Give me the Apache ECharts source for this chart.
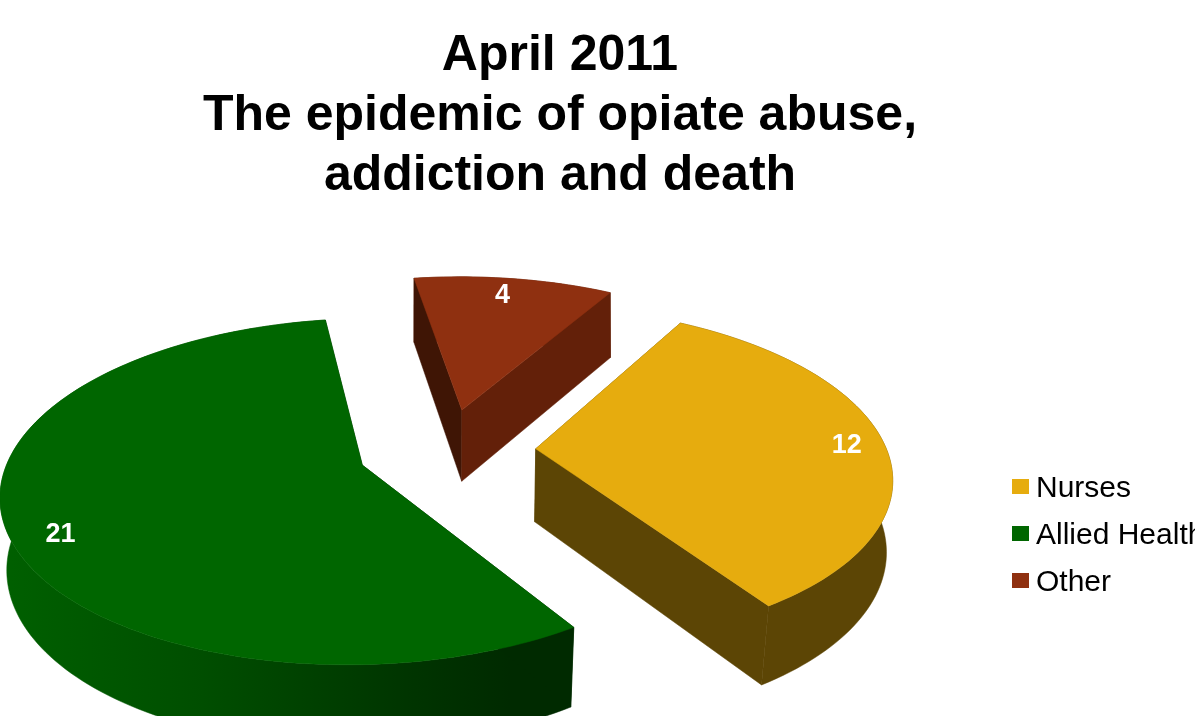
<!DOCTYPE html>
<html>
<head>
<meta charset="utf-8">
<style>html,body{margin:0;padding:0;background:#fff;overflow:hidden}#c{width:1195px;height:716px;filter:blur(0.4px)}</style>
<script src="https://cdn.jsdelivr.net/npm/echarts@6/dist/echarts.min.js"></script>
</head>
<body>
<div id="c"></div>
<script>
const categories = ['Nurses', 'Allied Health', 'Other'];
const values = [12, 21, 4];
const titleLines = ['April 2011', 'The epidemic of opiate abuse,', 'addiction and death'];

const topColors = ['#E6AC0E', '#006600', '#8F3010'];
const startWallColors = ['#5C4505', '#002A00', '#3F1505'];
const endWallColors = ['#5C4505', '#002A00', '#632009'];

// Perspective view of the pie disc
const view = {cx: 446, cy: 450, rx: 351, ry: 164.5, persp: 0.151, depth: 73, depthSlope: 0.1, baseShrink: 0.988, shrinkSlope: 0.012, firstAngle: 30, labelAt: 0.86};
const explode = [0.256, 0.252, 0.256];
const labelNudge = [[11, 1], [2, 15], [-5, 0]];
const total = values.reduce((a, b) => a + b, 0);

function project(wx, wy, bottom) {
  const s = 1 / (1 + view.persp * wy);
  const k = bottom ? view.baseShrink + view.shrinkSlope * wy : 1;
  const drop = bottom ? view.depth * (1 - view.depthSlope * wy) : 0;
  return [view.cx + view.rx * wx * s * k, view.cy - view.ry * wy * s + drop];
}
function rimWall(i) {
  if (i === 1) {
    return new echarts.graphic.LinearGradient(0, 0, 580, 0, [
      {offset: 0, color: '#006000'}, {offset: 0.35, color: '#004E00'},
      {offset: 0.7, color: '#003500'}, {offset: 0.88, color: '#002A00'}, {offset: 1, color: '#002A00'}
    ], true);
  }
  return endWallColors[i];
}
function sliceItem(i, params, api) {
  const v = api.value(0);
  const before = values.slice(0, i).reduce((a, b) => a + b, 0);
  const a0 = (view.firstAngle + before / total * 360) * Math.PI / 180;
  const a1 = a0 + v / total * 2 * Math.PI;
  const mid = (a0 + a1) / 2;
  const ox = Math.sin(mid) * explode[i], oy = Math.cos(mid) * explode[i];
  const pt = (a, r, b) => project(ox + Math.sin(a) * r, oy + Math.cos(a) * r, b);
  const steps = Math.max(12, Math.round((a1 - a0) * 40));
  const arcTop = [], arcBot = [];
  for (let k = 0; k <= steps; k++) {
    const a = a0 + (a1 - a0) * k / steps;
    arcTop.push(pt(a, 1, false));
    arcBot.push(pt(a, 1, true));
  }
  const apexT = pt(0, 0, false), apexB = pt(0, 0, true);
  const poly = (points, fill) => ({type: 'polygon', shape: {points}, style: {fill, stroke: fill, lineWidth: 0.5}});
  const lab = pt(mid, view.labelAt, false);
  return {
    type: 'group',
    children: [
      poly(arcTop.concat(arcBot.slice().reverse()), rimWall(i)),
      poly([apexT, arcTop[0], arcBot[0], apexB], startWallColors[i]),
      poly([apexT, arcTop[steps], arcBot[steps], apexB], endWallColors[i]),
      poly([apexT].concat(arcTop), topColors[i]),
      {type: 'text', x: lab[0] + labelNudge[i][0], y: lab[1] + labelNudge[i][1], style: {text: String(v), fill: '#fff', font: 'bold 27px "Liberation Sans"', align: 'center', verticalAlign: 'middle'}}
    ]
  };
}

const chart = echarts.init(document.getElementById('c'), null, {renderer: 'canvas'});
chart.setOption({
  animation: false,
  backgroundColor: '#fff',
  title: {
    text: titleLines.join('\n'), left: 555, top: 21, textAlign: 'center',
    textStyle: {fontFamily: 'Liberation Sans', fontWeight: 'bold', fontSize: 50, lineHeight: 60, color: '#000'}
  },
  legend: {
    left: 1012, top: 473.5, padding: 0, orient: 'vertical', icon: 'rect', itemWidth: 17, itemHeight: 15, itemGap: 17,
    data: categories, selectedMode: false,
    formatter: name => '{t|' + name + '}',
    textStyle: {rich: {t: {fontFamily: 'Liberation Sans', fontSize: 30, color: '#000', padding: [4, 0, 0, 2]}}}
  },
  series: categories.map((name, i) => ({
    type: 'custom', name, coordinateSystem: 'none', silent: true,
    itemStyle: {color: topColors[i]},
    data: [[values[i]]],
    renderItem: (params, api) => sliceItem(i, params, api)
  }))
});
</script>
</body>
</html>
